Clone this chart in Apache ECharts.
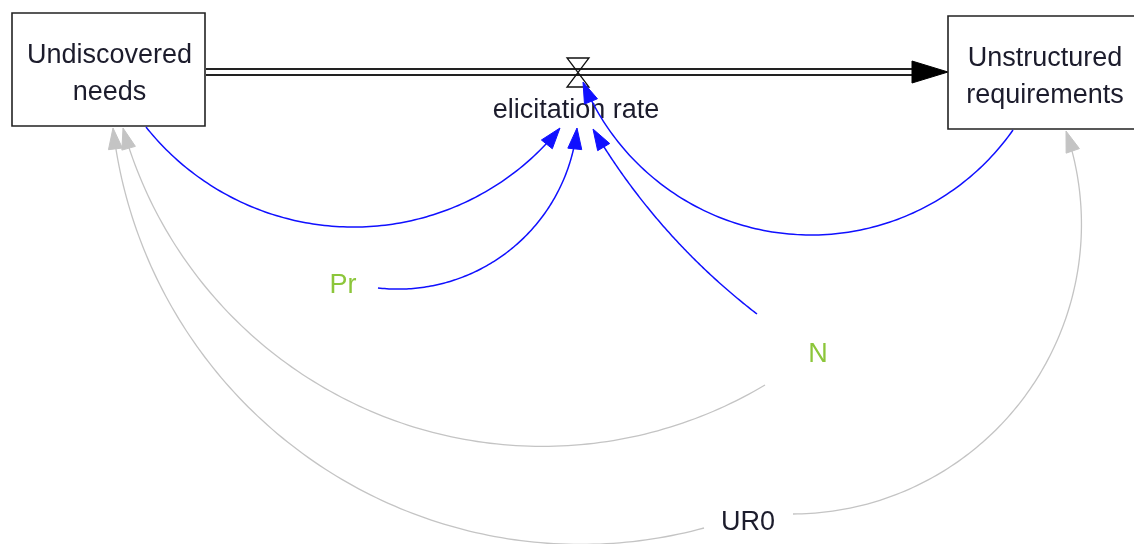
<!DOCTYPE html>
<html><head><meta charset="utf-8">
<script src="https://cdn.jsdelivr.net/npm/echarts@6/dist/echarts.min.js"></script>
<style>html,body{margin:0;padding:0;background:#fff}#c{width:1134px;height:544px}</style>
</head><body><div id="c"></div>
<script>
// ---- Diagram content (stock-and-flow) ----
const stockNames = ['Undiscovered\nneeds', 'Unstructured\nrequirements'];
const stockX1 = [12, 948];
const stockY1 = [13, 16];
const stockX2 = [205, 1140];
const stockY2 = [126, 129];

const flowNames = ['elicitation rate'];
const flowStart = [[206, 72]];
const flowEnd = [[948, 72]];
const flowValve = [[578, 72]];
const flowLabel = [[576, 109]];

const auxNames = ['Pr', 'N', 'UR0'];
const auxX = [343, 818, 748];
const auxY = [284, 353, 521];
const auxKind = ['const', 'const', 'init'];

// causal links: start point, a point the arc passes through, arrow tip
const linkFrom = [[146,127],[378,288],[757,314],[1013,130],[765,385],[704,528],[793,514]];
const linkVia  = [[348,227],[510,250],[658,220],[813,235],[282,360],[207,360],[1045,365]];
const linkTo   = [[560,128],[577,128],[593,129],[583,82],[123,128],[113,128],[1066,131]];
const linkKind = ['info','info','info','info','init','init','init'];

// ---- styles ----
const FONT = 'Liberation Sans, Arial, sans-serif';
const FS = 27;
const TXT_DY = 2;
const linkColor = { info: '#1010ff', init: '#c4c4c4' };
const linkWidth = { info: 1.5, init: 1.3 };
const auxColor = { const: '#8cc63a', init: '#1c1c2c' };

function arcPoints(p1, pm, p2) {
  const ax=p1[0], ay=p1[1], bx=pm[0], by=pm[1], cx=p2[0], cy=p2[1];
  const d = 2*(ax*(by-cy)+bx*(cy-ay)+cx*(ay-by));
  if (Math.abs(d) < 1e-6) return {pts:[p1,p2], dir:[(cx-ax),(cy-ay)]};
  const s1=ax*ax+ay*ay, s2=bx*bx+by*by, s3=cx*cx+cy*cy;
  const ux=(s1*(by-cy)+s2*(cy-ay)+s3*(ay-by))/d;
  const uy=(s1*(cx-bx)+s2*(ax-cx)+s3*(bx-ax))/d;
  const r=Math.hypot(ax-ux, ay-uy);
  const TP=Math.PI*2;
  const norm=a=>{while(a<0)a+=TP;while(a>=TP)a-=TP;return a;};
  const a1=Math.atan2(ay-uy,ax-ux), am=Math.atan2(by-uy,bx-ux), a2=Math.atan2(cy-uy,cx-ux);
  const m=norm(am-a1), e=norm(a2-a1);
  const sweep = m < e ? e : e - TP;
  return {ux, uy, r, a1, sweep};
}

function renderLink(params, api) {
  const p1 = api.coord([api.value(0), api.value(1)]);
  const pm = api.coord([api.value(2), api.value(3)]);
  const p2 = api.coord([api.value(4), api.value(5)]);
  const kind = linkKind[params.dataIndex];
  const col = linkColor[kind];
  const arc = arcPoints(p1, pm, p2);
  const L = 21, W = 7;
  let dir, pts = [];
  if (arc.pts) {
    const len = Math.hypot(arc.dir[0], arc.dir[1]);
    dir = [arc.dir[0]/len, arc.dir[1]/len];
    pts = [p1, [p2[0]-dir[0]*L, p2[1]-dir[1]*L]];
  } else {
    const sg = Math.sign(arc.sweep);
    const aEnd = arc.a1 + arc.sweep;
    dir = [-Math.sin(aEnd)*sg, Math.cos(aEnd)*sg];
    const stop = arc.sweep - sg * (L*0.9) / arc.r;
    const N = 120;
    for (let i = 0; i <= N; i++) {
      const a = arc.a1 + stop * i / N;
      pts.push([arc.ux + arc.r*Math.cos(a), arc.uy + arc.r*Math.sin(a)]);
    }
  }
  const base = [p2[0]-dir[0]*L, p2[1]-dir[1]*L];
  const nrm = [-dir[1], dir[0]];
  return {
    type: 'group',
    children: [
      { type: 'polyline', shape: { points: pts }, style: { stroke: col, lineWidth: linkWidth[kind], fill: null } },
      { type: 'polygon', shape: { points: [p2, [base[0]+nrm[0]*W, base[1]+nrm[1]*W], [base[0]-nrm[0]*W, base[1]-nrm[1]*W]] },
        style: { fill: col, stroke: col, lineWidth: 1 } }
    ]
  };
}

function renderStock(params, api) {
  const a = api.coord([api.value(0), api.value(1)]);
  const b = api.coord([api.value(2), api.value(3)]);
  const i = params.dataIndex;
  const cx = i === 0 ? (a[0]+b[0])/2 + 1 : a[0] + 97;
  return {
    type: 'group',
    children: [
      { type: 'rect', shape: { x: a[0], y: a[1], width: b[0]-a[0], height: b[1]-a[1] },
        style: { fill: '#fff', stroke: '#222', lineWidth: 1.6 } },
      { type: 'text', style: { text: stockNames[i], x: cx, y: (a[1]+b[1])/2 + 2.5 + TXT_DY,
        align: 'center', verticalAlign: 'middle', fontFamily: FONT, fontSize: FS, lineHeight: 37, fill: '#1c1c2c' } }
    ]
  };
}

function renderFlow(params, api) {
  const s = api.coord([api.value(0), api.value(1)]);
  const e = api.coord([api.value(2), api.value(3)]);
  const v = api.coord([api.value(4), api.value(5)]);
  const t = api.coord([api.value(6), api.value(7)]);
  const AL = 36, AW = 11, gap = 3;
  const ax = e[0] - AL;
  return {
    type: 'group',
    children: [
      { type: 'line', shape: { x1: s[0], y1: s[1]-gap, x2: ax+4, y2: e[1]-gap }, style: { stroke: '#222', lineWidth: 2 } },
      { type: 'line', shape: { x1: s[0], y1: s[1]+gap, x2: ax+4, y2: e[1]+gap }, style: { stroke: '#222', lineWidth: 2 } },
      { type: 'polygon', shape: { points: [[ax, e[1]-AW], [e[0], e[1]], [ax, e[1]+AW]] }, style: { fill: '#000', stroke: '#000' } },
      { type: 'polygon', shape: { points: [[v[0]-11, v[1]-14], [v[0]+11, v[1]-14], [v[0]-11, v[1]+15], [v[0]+11, v[1]+15]] },
        style: { fill: null, stroke: '#111', lineWidth: 1.3 } },
      { type: 'text', style: { text: flowNames[params.dataIndex], x: t[0], y: t[1] + TXT_DY, align: 'center', verticalAlign: 'middle',
        fontFamily: FONT, fontSize: FS, fill: '#1c1c2c' } }
    ]
  };
}

function renderAux(params, api) {
  const p = api.coord([api.value(0), api.value(1)]);
  const i = params.dataIndex;
  return { type: 'text', style: { text: auxNames[i], x: p[0], y: p[1] + TXT_DY, align: 'center', verticalAlign: 'middle',
    fontFamily: FONT, fontSize: FS, fill: auxColor[auxKind[i]] } };
}

const chart = echarts.init(document.getElementById('c'), null, { renderer: 'canvas' });
chart.setOption({
  animation: false,
  backgroundColor: '#fff',
  grid: { left: 0, right: 0, top: 0, bottom: 0 },
  xAxis: { type: 'value', min: 0, max: 1134, show: false },
  yAxis: { type: 'value', min: 0, max: 544, inverse: true, show: false },
  series: [
    { type: 'custom', z: 1, clip: false, renderItem: renderFlow,
      data: flowNames.map((n, i) => [flowStart[i][0], flowStart[i][1], flowEnd[i][0], flowEnd[i][1], flowValve[i][0], flowValve[i][1], flowLabel[i][0], flowLabel[i][1]]) },
    { type: 'custom', z: 2, clip: false, renderItem: renderStock,
      data: stockNames.map((n, i) => [stockX1[i], stockY1[i], stockX2[i], stockY2[i]]) },
    { type: 'custom', z: 3, clip: false, renderItem: renderLink,
      data: linkFrom.map((f, i) => [f[0], f[1], linkVia[i][0], linkVia[i][1], linkTo[i][0], linkTo[i][1]]) },
    { type: 'custom', z: 4, clip: false, renderItem: renderAux,
      data: auxNames.map((n, i) => [auxX[i], auxY[i]]) }
  ]
});
</script>
</body></html>
